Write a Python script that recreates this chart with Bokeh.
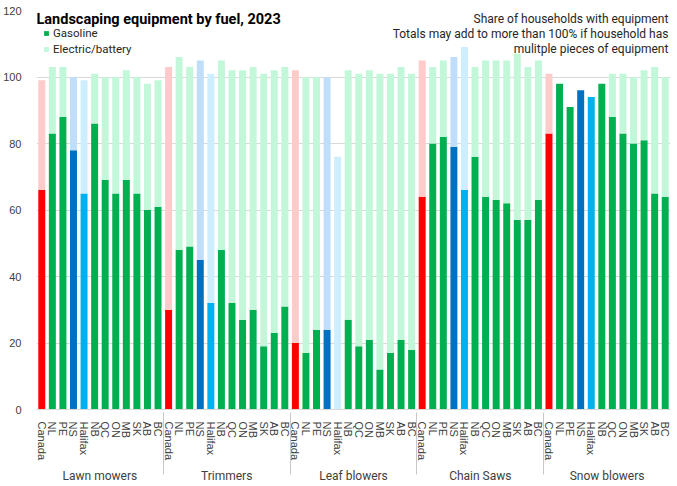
from bokeh.plotting import figure
from bokeh.models import (FactorRange, ColumnDataSource, Legend, LegendItem, Label)
from bokeh.embed import file_html
from bokeh.resources import INLINE

# ---- data ----
equipment = ["Lawn mowers", "Trimmers", "Leaf blowers", "Chain Saws", "Snow blowers"]
regions = ["Canada", "NL", "PE", "NS", "Halifax", "NB", "QC", "ON", "MB", "SK", "AB", "BC"]

gas_lawn = [66, 83, 88, 78, 65, 86, 69, 65, 69, 65, 60, 61]
elec_lawn = [33, 20, 15, 22, 34, 15, 31, 35, 33, 35, 38, 38]

gas_trim = [30, 48, 49, 45, 32, 48, 32, 27, 30, 19, 23, 31]
elec_trim = [73, 58, 54, 60, 69, 57, 70, 75, 73, 82, 79, 72]

gas_leaf = [20, 17, 24, 24, 0, 27, 19, 21, 12, 17, 21, 18]
elec_leaf = [82, 83, 76, 76, 76, 75, 82, 81, 89, 84, 82, 83]

gas_saw = [64, 80, 82, 79, 66, 76, 64, 63, 62, 57, 57, 63]
elec_saw = [41, 23, 23, 27, 43, 27, 41, 42, 43, 50, 46, 42]

gas_snow = [83, 98, 91, 96, 94, 98, 88, 83, 80, 81, 65, 64]
elec_snow = [18, 0, 0, 0, 0, 0, 13, 18, 20, 21, 38, 36]

y_ticks = [0, 20, 40, 60, 80, 100, 120]

title_text = "Landscaping equipment by fuel, 2023"
note_lines = ["Share of households with equipment",
              "Totals may add to more than 100% if household has",
              "mulitple pieces of equipment"]

# ---- styling maps ----
gas_color_map = {"Canada": "#FF0000", "NS": "#0070C0", "Halifax": "#00B0F0"}
elec_color_map = {"Canada": "#FFCACA", "NS": "#C0DEFA", "Halifax": "#CCEEFF"}
GREEN, MINT = "#00B050", "#C2F7DA"

gas_all = [gas_lawn, gas_trim, gas_leaf, gas_saw, gas_snow]
elec_all = [elec_lawn, elec_trim, elec_leaf, elec_saw, elec_snow]

xs, gas, elec, gc, ec = [], [], [], [], []
for eq, g_list, e_list in zip(equipment, gas_all, elec_all):
    for r, g, e in zip(regions, g_list, e_list):
        xs.append((eq, r))
        gas.append(g)
        elec.append(e)
        gc.append(gas_color_map.get(r, GREEN))
        ec.append(elec_color_map.get(r, MINT))

source = ColumnDataSource(dict(x=xs, gas=gas, elec=elec, gc=gc, ec=ec))
n_bars = len(xs)

p = figure(x_range=FactorRange(*xs, factor_padding=0, group_padding=0, range_padding=0),
           y_range=(0, 120), width=677, height=486,
           output_backend="svg", toolbar_location=None,
           min_border_left=33, min_border_right=7, min_border_top=10, min_border_bottom=60)

rs = p.vbar_stack(["gas", "elec"], x="x", width=0.66, source=source,
                  fill_color=["gc", "ec"], line_color=None)

# axes
p.yaxis.ticker = y_ticks
p.yaxis.axis_line_color = None
p.yaxis.major_tick_line_color = None
p.yaxis.minor_tick_line_color = None
p.yaxis.major_label_standoff = 9
p.yaxis.major_label_text_font = "Liberation Sans"
p.yaxis.major_label_text_font_size = "11px"
p.yaxis.major_label_text_color = "#404040"

p.xaxis.axis_line_color = "#D9D9D9"
p.xaxis.major_tick_line_color = None
p.xaxis.minor_tick_line_color = None
p.xaxis.major_label_orientation = "vertical"
p.xaxis.major_label_text_font = "Liberation Sans"
p.xaxis.major_label_text_font_size = "11px"
p.xaxis.major_label_text_color = "#404040"
p.xaxis.major_label_standoff = 6
p.xaxis.group_text_font = "Roboto"
p.xaxis.group_text_font_size = "12px"
p.xaxis.group_text_font_style = "normal"
p.xaxis.group_text_color = "#404040"
p.xaxis.group_label_orientation = "horizontal"
p.xaxis.separator_line_color = "#C8C8C8"
p.xaxis.separator_line_width = 1

p.xgrid.grid_line_color = None
p.ygrid.grid_line_color = "#D9D9D9"
p.outline_line_color = None

# legend
legend = Legend(items=[LegendItem(label="Gasoline", renderers=[rs[0]], index=1),
                       LegendItem(label="Electric/battery", renderers=[rs[1]], index=1)],
                location=(7, 353), padding=0, margin=0, spacing=2,
                glyph_width=6, glyph_height=6, label_height=12, label_standoff=4,
                label_text_font="Roboto", label_text_font_size="11.5px",
                label_text_color="#262626",
                background_fill_alpha=0, border_line_color=None)
p.add_layout(legend, "center")

# title and note (placed in data units so they stay inside the plot area)
p.add_layout(Label(x=0, y=117.2, text=title_text,
                   text_font="Roboto", text_font_style="bold", text_font_size="14.5px",
                   text_color="#000000", text_baseline="middle", text_align="left"))
for yv, line in zip([117.3, 112.8, 108.3], note_lines):
    p.add_layout(Label(x=n_bars - 0.2, y=yv, text=line, text_font="Roboto",
                       text_font_size="12px", text_color="#262626",
                       text_baseline="middle", text_align="right"))

open("out.html", "w").write(file_html(p, INLINE))
